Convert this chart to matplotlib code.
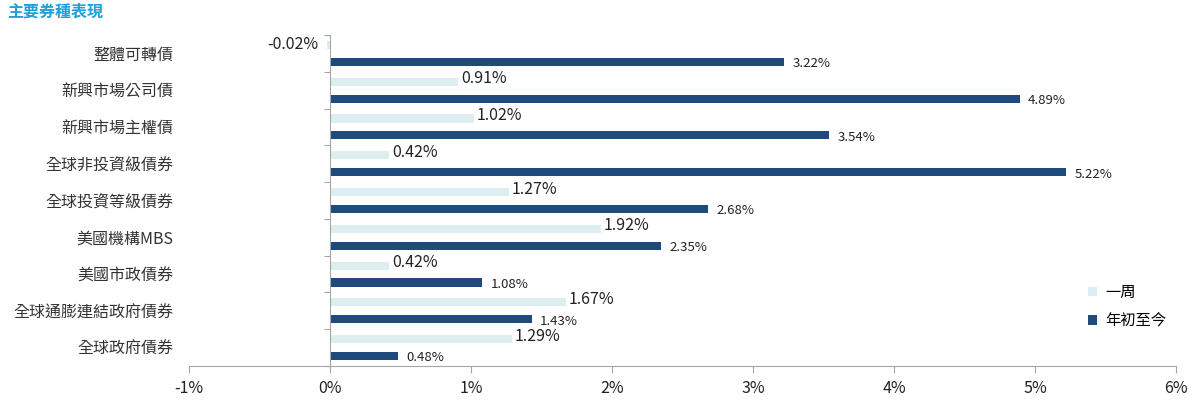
import numpy as np
import matplotlib
matplotlib.use("Agg")
import matplotlib.pyplot as plt
from matplotlib.transforms import blended_transform_factory

plt.rcParams['font.family'] = ['Noto Sans CJK TC', 'DejaVu Sans']

# data (top to bottom)
categories = ['整體可轉債', '新興市場公司債', '新興市場主權債', '全球非投資級債券',
              '全球投資等級債券', '美國機構MBS', '美國市政債券', '全球通膨連結政府債券', '全球政府債券']
week = [-0.02, 0.91, 1.02, 0.42, 1.27, 1.92, 0.42, 1.67, 1.29]
ytd = [3.22, 4.89, 3.54, 5.22, 2.68, 2.35, 1.08, 1.43, 0.48]
xticks = [-1, 0, 1, 2, 3, 4, 5, 6]

light = '#DDEEF1'
dark = '#1F4A7D'
axis_gray = '#A6A6A6'

fig = plt.figure(figsize=(11.92, 4), dpi=100)
ax = fig.add_axes([0.1586, 0.085, 0.828, 0.8275])

n = len(categories)
y = np.arange(n)
h = 0.22
off = 0.23

ax.barh(y - off, week, height=h, color=light, label='一周')
ax.barh(y + off, ytd, height=h, color=dark, label='年初至今')

ax.set_xlim(-1, 6)
ax.set_ylim(n - 0.5, -0.5)

# value labels
for i, v in enumerate(week):
    if v < 0:
        ax.text(v - 0.06, i - off - 0.02, f'{v:.2f}%', ha='right', va='center',
                fontsize=11.5, color='#222222')
    else:
        ax.text(v + 0.02, i - off - 0.08, f'{v:.2f}%', ha='left', va='center',
                fontsize=11.5, color='#222222')
for i, v in enumerate(ytd):
    ax.text(v + 0.06, i + off + 0.05, f'{v:.2f}%', ha='left', va='center',
            fontsize=9.5, color='#222222')

# axes styling
for s in ['top', 'right']:
    ax.spines[s].set_visible(False)
ax.spines['left'].set_position(('data', 0))
ax.spines['left'].set_color(axis_gray)
ax.spines['bottom'].set_color(axis_gray)

ax.set_xticks(xticks)
ax.set_xticklabels([f'{t}%' for t in xticks], fontsize=11.5, color='#222222')
ax.tick_params(axis='x', direction='out', length=5, color=axis_gray, pad=5)

ax.set_yticks(np.arange(-0.5, n, 1.0))
ax.set_yticklabels([])
ax.tick_params(axis='y', direction='out', length=4, color=axis_gray)

trans = blended_transform_factory(ax.transAxes, ax.transData)
for i, c in enumerate(categories):
    ax.text(-0.016, i + 0.05, c, transform=trans, ha='right', va='center',
            fontsize=11.5, color='#333333')

leg = ax.legend(loc='upper left', bbox_to_anchor=(0.897, 0.29), frameon=False,
                fontsize=11, handlelength=0.6, handleheight=0.6,
                handletextpad=0.5, labelspacing=0.75)

fig.text(0.006, 0.97, '主要券種表現', ha='left', va='center', fontsize=11.5,
         fontweight='bold', color='#1FA0DA')

fig.savefig('out.png', dpi=100)
